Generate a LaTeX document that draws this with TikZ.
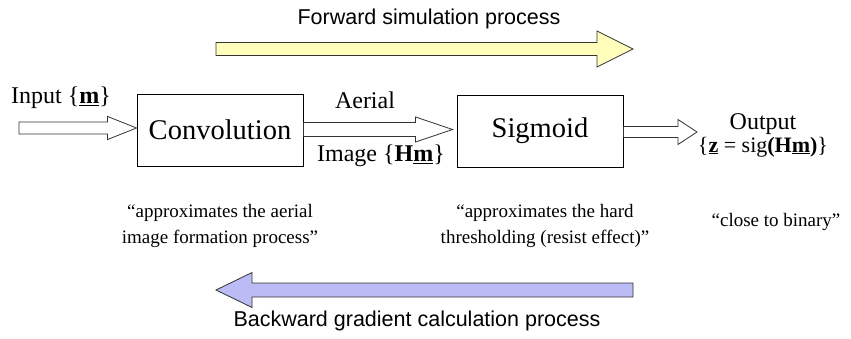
\documentclass[tikz,border=0pt]{standalone}
\usepackage{fontspec}
\setmainfont{Liberation Serif}
\newfontfamily\sansf{Liberation Sans}
\usetikzlibrary{calc}
\definecolor{fwdfill}{HTML}{FFFFBB}
\definecolor{bwdfill}{HTML}{BBBBF5}
\definecolor{edge}{HTML}{333333}
\newcommand\harrow[6]{%
  \draw[#1] let \p1=(#2), \p2=(#3) in
   (\x1,\y2+#4) -- (\x2-#6,\y2+#4) -- (\x2-#6,\y2+#5) -- (\x2,\y2)
   -- (\x2-#6,\y2-#5) -- (\x2-#6,\y2-#4) -- (\x1,\y2-#4) -- cycle;}
\begin{document}
\begin{tikzpicture}[x=1pt,y=-1pt,
  block/.style={draw=black,line width=0.9pt,minimum width=166pt,minimum height=72pt,
     inner sep=0pt,font=\fontsize{28.5}{30}\selectfont},
  lbl/.style={inner sep=0pt,font=\fontsize{24}{26}\selectfont},
  caption/.style={inner sep=0pt,align=center,font=\fontsize{19}{26}\selectfont},
  sanslbl/.style={inner sep=0pt,font=\sansf\fontsize{21.5}{24}\selectfont},
  flow/.style={draw=black!80,line width=0.8pt,fill=white},
  bigfwd/.style={draw=edge,line width=0.8pt,fill=fwdfill},
  bigbwd/.style={draw=edge,line width=0.8pt,fill=bwdfill}]
\useasboundingbox (0,0) rectangle (851,339);

% top process arrow
\node[sanslbl] (fwdtxt) at (429,19) {Forward simulation process};
\coordinate (fwdL) at (216,49);
\coordinate (fwdR) at (633,49);
\harrow{bigfwd}{fwdL}{fwdR}{6.5pt}{18pt}{36pt}

% blocks
\node[block] (conv) at (220,130) {Convolution};
\node[block] (sig) at (540,131) {Sigmoid};

% input
\node[lbl] (inlbl) at (61,98) {Input \{\underline{\textbf{m}}\}};
\coordinate (instart) at (19,128);
\coordinate (intip) at ($(conv.west)+(0,-2)$);
\harrow{flow}{instart}{intip}{6pt}{11.5pt}{29pt}

% aerial image
\coordinate (aertip) at ($(sig.west)+(-4,-1.5)$);
\harrow{flow}{conv.east}{aertip}{7pt}{12.5pt}{37pt}
\node[lbl] (aer) at (365,100) {Aerial};
\node[lbl] (img) at (381,156) {Image \{\textbf{H}\underline{\textbf{m}}\}};

% output
\coordinate (outtip) at (697,132);
\harrow{flow}{sig.east}{outtip}{5.5pt}{12.5pt}{19pt}
\node[lbl,align=center,font=\fontsize{24}{23}\selectfont] (outlbl) at (763,135)
  {Output\\{\fontsize{22}{23}\selectfont\{\underline{\textbf{z}} = sig\textbf{(H\underline{m})}\}}};

% captions
\node[caption] (c1) at (220,226) {“approximates the aerial\\image formation process”};
\node[caption] (c2) at (545,226) {“approximates the hard\\thresholding (resist effect)”};
\node[caption] (c3) at (776,222) {“close to binary”};

% bottom process arrow
\coordinate (bwdR) at (633,290);
\coordinate (bwdL) at (216,290);
\harrow{bigbwd}{bwdR}{bwdL}{7pt}{17.5pt}{-36pt}
\node[sanslbl] (bwdtxt) at (417,321) {Backward gradient calculation process};
\end{tikzpicture}
\end{document}
